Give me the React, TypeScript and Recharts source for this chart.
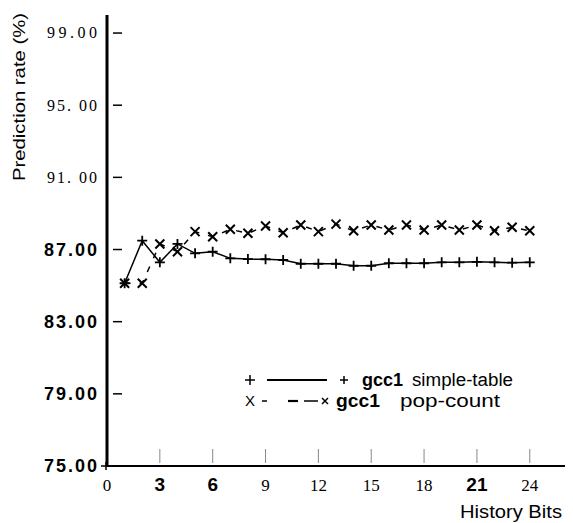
import React from 'react';
import { LineChart, Line, XAxis, YAxis, Legend } from 'recharts';

const historyBits = [1, 2, 3, 4, 5, 6, 7, 8, 9, 10, 11, 12, 13, 14, 15, 16, 17, 18, 19, 20, 21, 22, 23, 24];
const simpleTable = [85.13, 87.49, 86.29, 87.31, 86.79, 86.88, 86.51, 86.47, 86.46, 86.42, 86.21, 86.21, 86.21, 86.1, 86.1, 86.24, 86.24, 86.24, 86.29, 86.29, 86.32, 86.29, 86.27, 86.29];
const popCount = [85.13, 85.13, 87.31, 86.88, 87.99, 87.71, 88.12, 87.9, 88.3, 87.93, 88.36, 87.99, 88.41, 88.04, 88.36, 88.08, 88.36, 88.08, 88.36, 88.08, 88.36, 88.04, 88.23, 88.04];

const xTicks = [0, 3, 6, 9, 12, 15, 18, 21, 24];
const xTickBold = [false, true, true, false, false, false, false, true, false];
const yTicks = [75, 79, 83, 87, 91, 95, 99];
const yTickLabels = ['75.00', '79.00', '83.00', '87.00', '91. 00', '95. 00', '99.00'];
const yTickBold = [true, true, true, true, false, false, false];

const seriesNames = ['gcc1 simple-table', 'gcc1 pop-count'];
const seriesKeys = ['simple', 'pop'];
const xAxisTitle = 'History Bits';
const yAxisTitle = 'Prediction rate (%)';

const data = historyBits.map((b, i) => ({ bits: b, simple: simpleTable[i], pop: popCount[i] }));

const SANS = "'Liberation Sans', Arial, sans-serif";
const SERIF = "'Liberation Serif', 'Times New Roman', serif";

const Y_MARGIN = 9;
const X_MARGIN = 8;

const YTick = (props: any) => {
  const { x, y, payload } = props;
  const i = yTicks.indexOf(payload.value);
  const bold = yTickBold[i];
  const axisX = x + Y_MARGIN;
  return (
    <g>
      <text
        x={x - 1}
        y={y}
        dy={bold ? 6.4 : 5.4}
        textAnchor="end"
        fontFamily={bold ? SANS : SERIF}
        fontWeight={bold ? 'bold' : 'normal'}
        fontSize={bold ? 18 : 16}
        fill="#000"
        textLength={bold ? 53 : 50}
        lengthAdjust="spacing"
      >
        {yTickLabels[i]}
      </text>
      {payload.value === yTicks[0] ? (
        <line x1={axisX - 6} x2={axisX} y1={y} y2={y} stroke="#000" strokeWidth={1.5} />
      ) : (
        <line x1={axisX + 6} x2={axisX + 15} y1={y} y2={y} stroke="#000" strokeWidth={1.5} />
      )}
    </g>
  );
};

const XTick = (props: any) => {
  const { x, y, payload } = props;
  const i = xTicks.indexOf(payload.value);
  const bold = xTickBold[i];
  const axisY = y - X_MARGIN;
  return (
    <g>
      <text
        x={x}
        y={y}
        dy={17}
        textAnchor="middle"
        fontFamily={bold ? SANS : SERIF}
        fontWeight={bold ? 'bold' : 'normal'}
        fontSize={bold ? 19 : 17}
        fill="#000"
      >
        {String(payload.value)}
      </text>
      {i === 0 ? (
        <line x1={x - 1} x2={x - 1} y1={axisY - 4} y2={axisY + 4} stroke="#000" strokeWidth={1.5} />
      ) : (
        <line x1={x} x2={x} y1={axisY - 17} y2={axisY - 3} stroke="#888" strokeWidth={1} />
      )}
    </g>
  );
};

const PlusDot = (props: any) => {
  const { cx, cy, index } = props;
  if (cx == null || cy == null) return <g key={`p-${index}`} />;
  const s = 5;
  return (
    <path
      key={`p-${index}`}
      d={`M${cx - s},${cy}H${cx + s}M${cx},${cy - s}V${cy + s}`}
      stroke="#000"
      strokeWidth={1.8}
      fill="none"
    />
  );
};

const CrossDot = (props: any) => {
  const { cx, cy, index } = props;
  if (cx == null || cy == null) return <g key={`x-${index}`} />;
  const s = 4.5;
  return (
    <path
      key={`x-${index}`}
      d={`M${cx - s},${cy - s}L${cx + s},${cy + s}M${cx - s},${cy + s}L${cx + s},${cy - s}`}
      stroke="#000"
      strokeWidth={2}
      fill="none"
    />
  );
};

const YLabel = (props: any) => {
  const vb = props.viewBox || { x: 0, y: 15 };
  const cx = vb.x + 25;
  const cy = vb.y + 82;
  return (
    <text
      x={cx}
      y={cy}
      textAnchor="middle"
      transform={`rotate(-90 ${cx} ${cy})`}
      fontFamily={SANS}
      fontSize={17}
      fill="#000"
      textLength={168}
      lengthAdjust="spacingAndGlyphs"
    >
      {yAxisTitle}
    </text>
  );
};

const XLabel = (props: any) => {
  const vb = props.viewBox || { x: 107, y: 466, width: 458 };
  return (
    <text
      x={vb.x + vb.width - 3}
      y={vb.y + 52}
      textAnchor="end"
      fontFamily={SANS}
      fontSize={18}
      fill="#000"
      textLength={102}
      lengthAdjust="spacingAndGlyphs"
    >
      {xAxisTitle}
    </text>
  );
};

const LegendContent = (props: any) => {
  const payload = props.payload || [];
  const nameFor = (k: number) => {
    const item = payload.find((p: any) => p.dataKey === seriesKeys[k]);
    return String(item ? item.value : seriesNames[k]);
  };
  const split = (n: string) => {
    const k = n.indexOf(' ');
    return [n.slice(0, k), n.slice(k + 1)];
  };
  const [a1, a2] = split(nameFor(0));
  const [b1, b2] = split(nameFor(1));
  return (
    <svg width={290} height={48} style={{ display: 'block' }}>
      <path d="M5,14H15M10,9V19" stroke="#000" strokeWidth={1.5} />
      <line x1={27} x2={87} y1={14} y2={14} stroke="#000" strokeWidth={2} />
      <path d="M100,14H108M104,10V18" stroke="#000" strokeWidth={1.5} />
      <text x={122} y={20} fontFamily={SANS} fontWeight="bold" fontSize={18} fill="#000" textLength={41} lengthAdjust="spacingAndGlyphs">{a1}</text>
      <text x={172} y={20} fontFamily={SANS} fontSize={18} fill="#000" textLength={101} lengthAdjust="spacingAndGlyphs">{a2}</text>
      <text x={5} y={40} fontFamily={SANS} fontSize={15} fill="#000">X</text>
      <line x1={22} x2={27} y1={35} y2={35} stroke="#000" strokeWidth={1.5} />
      <line x1={48} x2={58} y1={35} y2={35} stroke="#000" strokeWidth={2.2} />
      <line x1={64} x2={78} y1={35} y2={35} stroke="#000" strokeWidth={1.5} />
      <path d="M82,32L88,38M82,38L88,32" stroke="#000" strokeWidth={1.5} />
      <text x={96} y={41} fontFamily={SANS} fontWeight="bold" fontSize={18} fill="#000" textLength={44} lengthAdjust="spacingAndGlyphs">{b1}</text>
      <text x={160} y={41} fontFamily={SANS} fontSize={18} fill="#000" textLength={100} lengthAdjust="spacingAndGlyphs">{b2}</text>
    </svg>
  );
};

export default function App() {
  return (
    <div style={{ position: 'absolute', left: 0, top: 0, background: '#fff' }}>
      <LineChart width={573} height={523} data={data} margin={{ top: 15, right: 8, bottom: 0, left: 0 }}>
        <XAxis
          dataKey="bits"
          type="number"
          domain={[0, 26]}
          ticks={xTicks}
          interval={0}
          height={57}
          axisLine={{ stroke: '#000', strokeWidth: 2 }}
          tickLine={false}
          tickSize={0}
          tickMargin={X_MARGIN}
          tick={<XTick />}
          label={{ content: (p: any) => <XLabel {...p} /> }}
        />
        <YAxis
          type="number"
          domain={[75, 100]}
          ticks={yTicks}
          interval={0}
          width={107}
          axisLine={{ stroke: '#000', strokeWidth: 3 }}
          tickLine={false}
          tickSize={0}
          tickMargin={Y_MARGIN}
          tick={<YTick />}
          label={{ content: (p: any) => <YLabel {...p} /> }}
        />
        <Legend
          layout="horizontal"
          verticalAlign="middle"
          align="center"
          content={<LegendContent />}
          wrapperStyle={{ position: 'absolute', left: 240, top: 366, width: 290, height: 48 }}
        />
        <Line
          name={seriesNames[0]}
          dataKey="simple"
          stroke="#000"
          strokeWidth={1.5}
          dot={(p: any) => <PlusDot {...p} />}
          activeDot={false}
          isAnimationActive={false}
        />
        <Line
          name={seriesNames[1]}
          dataKey="pop"
          stroke="#000"
          strokeWidth={1.5}
          strokeDasharray="6 9"
          dot={(p: any) => <CrossDot {...p} />}
          activeDot={false}
          isAnimationActive={false}
        />
      </LineChart>
    </div>
  );
}
